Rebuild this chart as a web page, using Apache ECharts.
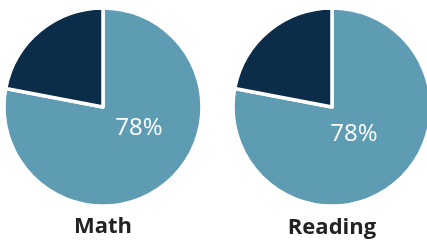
<!DOCTYPE html>
<html>
<head>
<meta charset="utf-8">
<script src="https://cdn.jsdelivr.net/npm/echarts@6/dist/echarts.min.js"></script>
<style>
html,body{margin:0;padding:0;background:#fff;}
#c{width:427px;height:240px;}
</style>
</head>
<body>
<div id="c"></div>
<script>
const subjects = ["Math", "Reading"];
const proficient = [78, 78];
const notProficient = [22, 22];
const sliceNames = ["Proficient", "Not proficient"];

const centers = [[103, 107], [332, 107]];
const labelPos = [[139, 128], [354, 134]];
const titlePos = [[103, 227], [332, 228]];
const colors = ["#5e9cb3", "#0c2d4a"];

const chart = echarts.init(document.getElementById('c'));
const series = subjects.map((s, i) => ({
  type: 'pie',
  center: centers[i],
  radius: [0, 99],
  startAngle: 90,
  clockwise: true,
  silent: true,
  label: { show: false },
  labelLine: { show: false },
  itemStyle: { borderColor: '#fff', borderWidth: 3.5 },
  data: [
    { name: sliceNames[0], value: proficient[i], itemStyle: { color: colors[0] } },
    { name: sliceNames[1], value: notProficient[i], itemStyle: { color: colors[1] } }
  ]
}));

const graphics = [];
subjects.forEach((s, i) => {
  graphics.push({
    type: 'text', x: labelPos[i][0], y: labelPos[i][1], z: 100,
    style: { text: proficient[i] + '%', fill: '#fff', font: '24px "Open Sans"', textAlign: 'center', textVerticalAlign: 'middle' }
  });
  graphics.push({
    type: 'text', x: titlePos[i][0], y: titlePos[i][1], z: 100,
    style: { text: s, fill: '#222', font: 'bold 22px "Open Sans"', textAlign: 'center', textVerticalAlign: 'middle' }
  });
});

chart.setOption({
  animation: false,
  series: series,
  graphic: graphics
});
</script>
</body>
</html>
